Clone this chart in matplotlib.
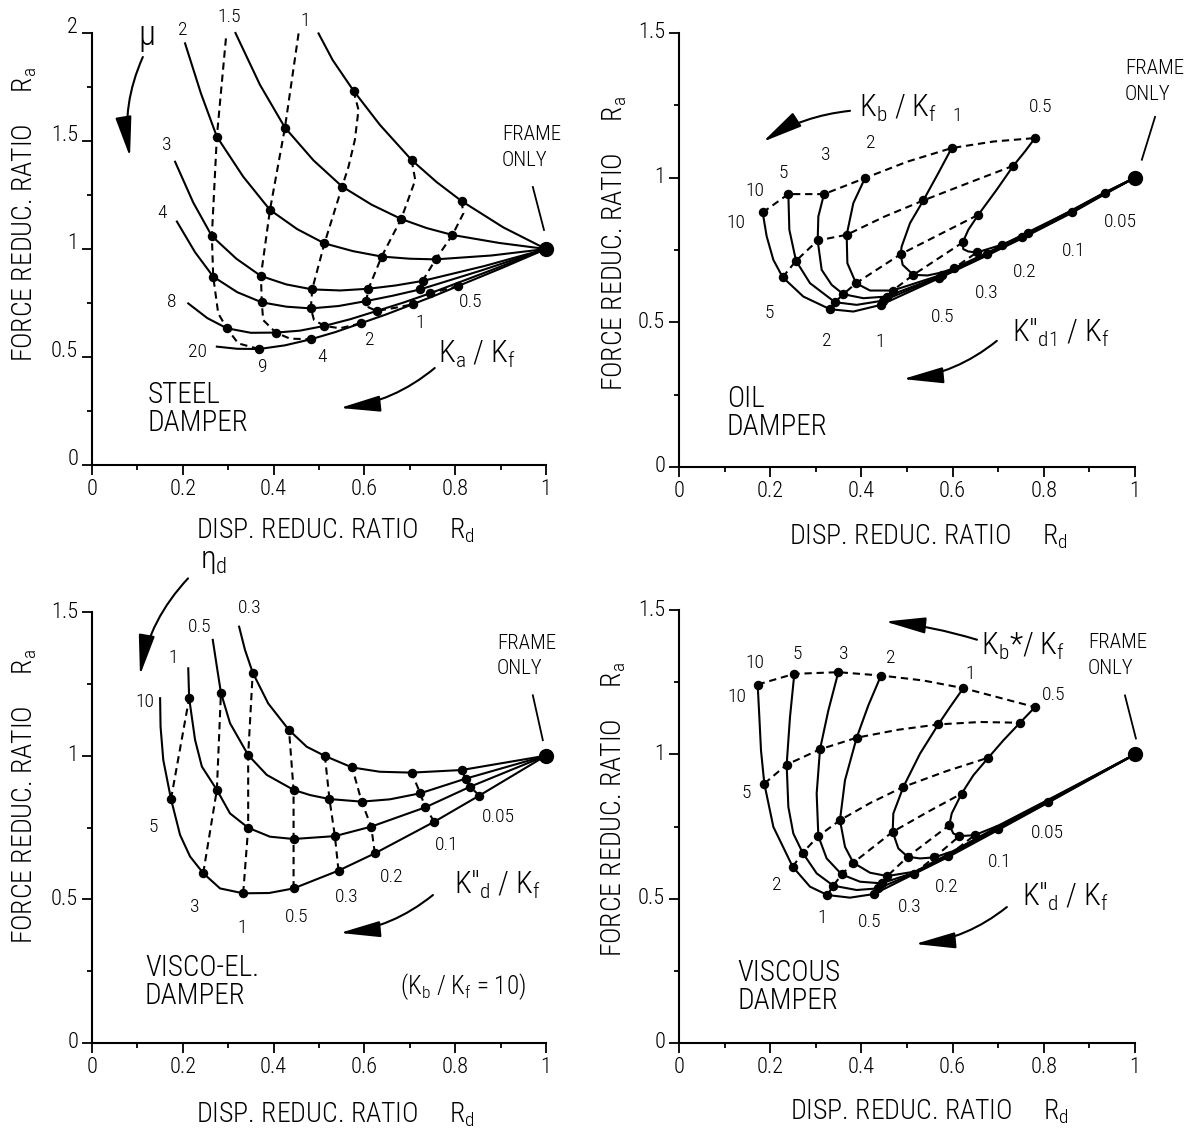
import numpy as np
import matplotlib.pyplot as plt

plt.rcParams['font.family'] = ['Roboto Condensed', 'Liberation Sans', 'DejaVu Sans']
plt.rcParams['font.weight'] = 'light'
plt.rcParams['mathtext.default'] = 'regular'

# ---------------- steel damper (top left) ----------------
# solid curves: constant mu
steel_mu = ['1', '1.5', '2', '3', '4', '8', '20']
steel_mu_x = [
    [0.499, 0.530, 0.576, 0.634, 0.704, 0.759, 0.814, 0.906, 1.0],
    [0.316, 0.370, 0.425, 0.488, 0.551, 0.616, 0.681, 0.737, 0.794, 0.897, 1.0],
    [0.205, 0.240, 0.275, 0.333, 0.392, 0.452, 0.512, 0.575, 0.638, 0.700, 0.757, 0.880, 1.0],
    [0.183, 0.223, 0.264, 0.318, 0.372, 0.428, 0.485, 0.547, 0.609, 0.668, 0.728, 0.864, 1.0],
    [0.187, 0.227, 0.267, 0.320, 0.374, 0.428, 0.482, 0.543, 0.604, 0.663, 0.723, 0.861, 1.0],
    [0.212, 0.254, 0.297, 0.350, 0.405, 0.458, 0.512, 0.569, 0.627, 0.686, 0.745, 0.872, 1.0],
    [0.275, 0.320, 0.368, 0.425, 0.482, 0.537, 0.592, 0.649, 0.706, 0.756, 0.807, 0.904, 1.0],
]
steel_mu_y = [
    [1.998, 1.875, 1.733, 1.575, 1.412, 1.310, 1.222, 1.100, 1.0],
    [2.0, 1.76, 1.562, 1.41, 1.289, 1.205, 1.139, 1.097, 1.065, 1.028, 1.0],
    [1.952, 1.72, 1.52, 1.335, 1.181, 1.092, 1.026, 0.99, 0.965, 0.955, 0.952, 0.970, 1.0],
    [1.404, 1.215, 1.06, 0.955, 0.875, 0.836, 0.813, 0.808, 0.816, 0.831, 0.852, 0.921, 1.0],
    [1.127, 0.985, 0.872, 0.80, 0.753, 0.733, 0.725, 0.736, 0.759, 0.784, 0.813, 0.903, 1.0],
    [0.748, 0.68, 0.633, 0.612, 0.613, 0.622, 0.644, 0.675, 0.713, 0.752, 0.795, 0.896, 1.0],
    [0.548, 0.538, 0.537, 0.554, 0.582, 0.616, 0.656, 0.698, 0.744, 0.785, 0.829, 0.913, 1.0],
]
# dashed curves: constant Ka/Kf
steel_ka = ['9', '4', '2', '1', '0.5']
steel_ka_x = [
    [0.295, 0.275, 0.264, 0.267, 0.278, 0.297, 0.322, 0.368],
    [0.455, 0.425, 0.392, 0.372, 0.374, 0.377, 0.405, 0.436, 0.482],
    [0.576, 0.587, 0.579, 0.565, 0.551, 0.512, 0.485, 0.482, 0.489, 0.512, 0.546, 0.592],
    [0.704, 0.712, 0.681, 0.638, 0.609, 0.604, 0.609, 0.627, 0.666, 0.706],
    [0.814, 0.818, 0.794, 0.757, 0.728, 0.723, 0.745, 0.807],
]
steel_ka_y = [
    [1.975, 1.520, 1.060, 0.872, 0.702, 0.633, 0.563, 0.537],
    [1.998, 1.562, 1.181, 0.875, 0.753, 0.671, 0.613, 0.585, 0.582],
    [1.733, 1.644, 1.505, 1.381, 1.289, 1.026, 0.813, 0.725, 0.671, 0.644, 0.633, 0.656],
    [1.412, 1.319, 1.139, 0.965, 0.816, 0.759, 0.730, 0.713, 0.727, 0.744],
    [1.222, 1.165, 1.065, 0.952, 0.852, 0.813, 0.795, 0.829],
]
steel_dot_x = [0.576, 0.704, 0.814,
               0.425, 0.551, 0.681, 0.794,
               0.275, 0.392, 0.512, 0.638, 0.757,
               0.264, 0.372, 0.485, 0.609, 0.728,
               0.267, 0.374, 0.482, 0.604, 0.723,
               0.297, 0.405, 0.512, 0.627, 0.745,
               0.368, 0.482, 0.592, 0.706, 0.807]
steel_dot_y = [1.733, 1.412, 1.222,
               1.562, 1.289, 1.139, 1.065,
               1.520, 1.181, 1.026, 0.965, 0.952,
               1.060, 0.875, 0.813, 0.816, 0.852,
               0.872, 0.753, 0.725, 0.759, 0.813,
               0.633, 0.613, 0.644, 0.713, 0.795,
               0.537, 0.582, 0.656, 0.744, 0.829]

# ---------------- oil damper (top right) ----------------
oil_kb = ['10', '5', '3', '2', '1', '0.5']
oil_kb_x = [
    [0.1835, 0.1923, 0.2069, 0.2273, 0.2727, 0.3311, 0.3823, 0.443, 0.571, 0.673, 0.752, 0.861, 0.934, 1.0],
    [0.2398, 0.242, 0.2566, 0.2873, 0.3421, 0.3896, 0.4481, 0.573, 0.674, 0.752, 0.861, 0.934, 1.0],
    [0.318, 0.3056, 0.3041, 0.3129, 0.3348, 0.3604, 0.4042, 0.4554, 0.575, 0.675, 0.752, 0.861, 0.934, 1.0],
    [0.4079, 0.3823, 0.3677, 0.3692, 0.3882, 0.419, 0.4686, 0.577, 0.676, 0.752, 0.861, 0.934, 1.0],
    [0.598, 0.5687, 0.5358, 0.5066, 0.4883, 0.486, 0.4905, 0.5139, 0.545, 0.575, 0.603, 0.677, 0.753,
     0.861, 0.934, 1.0],
    [0.7807, 0.7588, 0.7332, 0.6966, 0.6564, 0.6345, 0.622, 0.6235, 0.6345, 0.6528, 0.7076, 0.766,
     0.862, 0.935, 1.0],
]
oil_kb_y = [
    [0.8797, 0.797, 0.716, 0.656, 0.589, 0.5454, 0.5373, 0.5604, 0.653, 0.729, 0.790, 0.878, 0.943, 1.0],
    [0.9432, 0.8198, 0.7126, 0.6353, 0.5696, 0.5604, 0.5753, 0.657, 0.732, 0.793, 0.880, 0.945, 1.0],
    [0.9432, 0.8659, 0.7829, 0.6814, 0.6295, 0.5973, 0.5834, 0.5892, 0.661, 0.735, 0.796, 0.882, 0.946, 1.0],
    [0.9985, 0.912, 0.8025, 0.7045, 0.6353, 0.6099, 0.6099, 0.665, 0.738, 0.799, 0.884, 0.947, 1.0],
    [1.1023, 1.0158, 0.9213, 0.8428, 0.7621, 0.7356, 0.6987, 0.6641, 0.662, 0.672, 0.687, 0.741, 0.802,
     0.886, 0.948, 1.0],
    [1.1369, 1.0907, 1.0412, 0.9581, 0.8717, 0.8198, 0.776, 0.7529, 0.7449, 0.7414, 0.768, 0.808,
     0.888, 0.950, 1.0],
]
oil_kd = ['10', '5', '2', '1', '0.5', '0.3', '0.2']
oil_kd_x = [
    [0.1835, 0.2398, 0.318, 0.4079, 0.50, 0.598, 0.69, 0.7807],
    [0.2273, 0.2566, 0.3041, 0.3677, 0.45, 0.5358, 0.64, 0.7332],
    [0.3311, 0.3421, 0.3604, 0.3882, 0.4861, 0.6564],
    [0.443, 0.4481, 0.4554, 0.4686, 0.5139, 0.622],
    [0.571, 0.573, 0.575, 0.577, 0.603, 0.6528],
    [0.673, 0.675, 0.677, 0.7076],
    [0.752, 0.753, 0.766],
]
oil_kd_y = [
    [0.8797, 0.9432, 0.9432, 0.9985, 1.055, 1.1023, 1.125, 1.1369],
    [0.656, 0.7126, 0.7829, 0.8025, 0.865, 0.9213, 0.985, 1.0412],
    [0.5454, 0.5696, 0.5973, 0.6353, 0.7356, 0.8717],
    [0.5604, 0.5753, 0.5892, 0.6099, 0.6641, 0.776],
    [0.653, 0.657, 0.661, 0.665, 0.687, 0.7414],
    [0.729, 0.735, 0.741, 0.768],
    [0.795, 0.800, 0.808],
]
oil_dot_x = [0.1835, 0.2398, 0.318, 0.4079, 0.598, 0.7807,
             0.2273, 0.2566, 0.3041, 0.3677, 0.5358, 0.7332,
             0.3311, 0.3421, 0.3604, 0.3882, 0.4861, 0.6564,
             0.443, 0.4481, 0.4554, 0.4686, 0.5139, 0.622,
             0.571, 0.577, 0.603, 0.6528,
             0.675, 0.7076, 0.752, 0.766, 0.861, 0.934]
oil_dot_y = [0.8797, 0.9432, 0.9432, 0.9985, 1.1023, 1.1369,
             0.656, 0.7126, 0.7829, 0.8025, 0.9213, 1.0412,
             0.5454, 0.5696, 0.5973, 0.6353, 0.7356, 0.8717,
             0.5604, 0.5753, 0.5892, 0.6099, 0.6641, 0.776,
             0.653, 0.665, 0.687, 0.7414,
             0.735, 0.768, 0.795, 0.808, 0.882, 0.946]

# ---------------- visco-elastic damper (bottom left) ----------------
ve_eta = ['10', '1', '0.5', '0.3']
ve_eta_x = [
    [0.150, 0.151, 0.157, 0.174, 0.194, 0.216, 0.245, 0.282, 0.333, 0.390, 0.444, 0.543, 0.623, 0.754, 0.853, 1.0],
    [0.212, 0.214, 0.227, 0.242, 0.275, 0.304, 0.344, 0.392, 0.444, 0.535, 0.615, 0.734, 0.833, 1.0],
    [0.266, 0.275, 0.284, 0.304, 0.344, 0.385, 0.444, 0.480, 0.523, 0.594, 0.656, 0.723, 0.823, 1.0],
    [0.324, 0.337, 0.354, 0.388, 0.434, 0.473, 0.513, 0.573, 0.634, 0.704, 0.814, 1.0],
]
ve_eta_y = [
    [1.200, 1.101, 0.985, 0.849, 0.724, 0.649, 0.591, 0.538, 0.521, 0.522, 0.538, 0.600, 0.660, 0.770, 0.861, 1.0],
    [1.304, 1.200, 1.055, 0.962, 0.881, 0.799, 0.749, 0.718, 0.710, 0.720, 0.753, 0.820, 0.892, 1.0],
    [1.403, 1.310, 1.219, 1.113, 1.002, 0.933, 0.881, 0.863, 0.849, 0.840, 0.848, 0.869, 0.920, 1.0],
    [1.449, 1.368, 1.289, 1.182, 1.089, 1.031, 0.999, 0.959, 0.944, 0.941, 0.950, 1.0],
]
ve_kd = ['5', '3', '1', '0.5', '0.3', '0.2', '0.1', '0.05']
ve_kd_x = [
    [0.174, 0.214],
    [0.245, 0.275, 0.284],
    [0.333, 0.344, 0.344, 0.354],
    [0.444, 0.444, 0.444, 0.434],
    [0.543, 0.535, 0.523, 0.513],
    [0.623, 0.615, 0.594, 0.573],
    [0.754, 0.734, 0.723, 0.704],
    [0.853, 0.833, 0.823, 0.814],
]
ve_kd_y = [
    [0.849, 1.200],
    [0.591, 0.881, 1.219],
    [0.521, 0.749, 1.002, 1.289],
    [0.538, 0.710, 0.881, 1.089],
    [0.600, 0.720, 0.849, 0.999],
    [0.660, 0.753, 0.840, 0.959],
    [0.770, 0.820, 0.869, 0.941],
    [0.861, 0.892, 0.920, 0.950],
]

# ---------------- viscous damper (bottom right) ----------------
vs_kb = ['10', '5', '3', '2', '1', '0.5']
vs_kb_x = [
    [0.1725, 0.1762, 0.1798, 0.1871, 0.2069, 0.2493, 0.2873, 0.3253, 0.375, 0.4276, 0.515, 0.59, 0.70, 0.81, 1.0],
    [0.2529, 0.2434, 0.2361, 0.2398, 0.2507, 0.2712, 0.3019, 0.3385, 0.3896, 0.4371, 0.516, 0.591, 0.70, 0.81, 1.0],
    [0.3494, 0.3275, 0.3092, 0.3019, 0.3056, 0.3238, 0.3567, 0.3969, 0.4444, 0.517, 0.592, 0.70, 0.81, 1.0],
    [0.443, 0.4152, 0.3896, 0.364, 0.353, 0.364, 0.3823, 0.4189, 0.4569, 0.518, 0.593, 0.70, 0.81, 1.0],
    [0.6235, 0.5943, 0.5687, 0.5285, 0.492, 0.47, 0.4686, 0.481, 0.5015, 0.5285, 0.5599, 0.60, 0.70, 0.81, 1.0],
    [0.7807, 0.7478, 0.7113, 0.6784, 0.6455, 0.6199, 0.598, 0.5928, 0.6016, 0.6148, 0.6484, 0.70, 0.81, 1.0],
]
vs_kb_y = [
    [1.2419, 1.129, 1.0138, 0.8986, 0.7488, 0.6106, 0.5415, 0.5127, 0.5035, 0.5161, 0.585, 0.644, 0.738, 0.833, 1.0],
    [1.2788, 1.129, 0.9643, 0.818, 0.7258, 0.659, 0.5876, 0.5449, 0.53, 0.5357, 0.588, 0.648, 0.741, 0.835, 1.0],
    [1.2846, 1.152, 1.0173, 0.864, 0.7166, 0.6394, 0.5841, 0.5588, 0.553, 0.591, 0.652, 0.744, 0.837, 1.0],
    [1.273, 1.1694, 1.0576, 0.9101, 0.7719, 0.6797, 0.6244, 0.5899, 0.5783, 0.594, 0.656, 0.747, 0.839, 1.0],
    [1.2293, 1.1636, 1.1037, 1.0023, 0.8871, 0.795, 0.7316, 0.674, 0.6452, 0.6394, 0.6429, 0.664, 0.750, 0.841, 1.0],
    [1.1636, 1.1094, 1.0484, 0.9885, 0.9274, 0.8641, 0.795, 0.7546, 0.7258, 0.7166, 0.72, 0.753, 0.843, 1.0],
]
vs_kd = ['10', '5', '2', '1', '0.5', '0.3', '0.2']
vs_kd_x = [
    [0.1725, 0.2529, 0.3494, 0.443, 0.535, 0.6235, 0.7807],
    [0.1871, 0.2361, 0.3092, 0.3896, 0.48, 0.5687, 0.66, 0.7478],
    [0.2493, 0.2712, 0.3056, 0.353, 0.42, 0.492, 0.585, 0.6784],
    [0.3253, 0.3385, 0.3567, 0.3823, 0.4686, 0.545, 0.6199],
    [0.4276, 0.4371, 0.4444, 0.4569, 0.5015, 0.5928],
    [0.515, 0.5599, 0.6148],
    [0.59, 0.6484],
]
vs_kd_y = [
    [1.2419, 1.2788, 1.2846, 1.273, 1.256, 1.2293, 1.1636],
    [0.8986, 0.9643, 1.0173, 1.0576, 1.085, 1.1037, 1.112, 1.1094],
    [0.6106, 0.659, 0.7166, 0.7719, 0.832, 0.8871, 0.941, 0.9885],
    [0.5127, 0.5449, 0.5841, 0.6244, 0.7316, 0.80, 0.8641],
    [0.5161, 0.5357, 0.553, 0.5783, 0.6452, 0.7546],
    [0.587, 0.6429, 0.7166],
    [0.648, 0.72],
]
vs_dot_x = [0.1725, 0.2529, 0.3494, 0.443, 0.6235, 0.7807,
            0.1871, 0.2361, 0.3092, 0.3896, 0.5687, 0.7478,
            0.2493, 0.2712, 0.3056, 0.353, 0.492, 0.6784,
            0.3253, 0.3385, 0.3567, 0.3823, 0.4686, 0.6199,
            0.4276, 0.4371, 0.4444, 0.4569, 0.5015, 0.5928,
            0.515, 0.5599, 0.6148, 0.59, 0.6484, 0.70, 0.81]
vs_dot_y = [1.2419, 1.2788, 1.2846, 1.273, 1.2293, 1.1636,
            0.8986, 0.9643, 1.0173, 1.0576, 1.1037, 1.1094,
            0.6106, 0.659, 0.7166, 0.7719, 0.8871, 0.9885,
            0.5127, 0.5449, 0.5841, 0.6244, 0.7316, 0.8641,
            0.5161, 0.5357, 0.553, 0.5783, 0.6452, 0.7546,
            0.587, 0.6429, 0.7166, 0.648, 0.72, 0.742, 0.836]

# ---------------- drawing ----------------
LW = 1.5
DASH = (3.5, 2.3)


def setup(ax, ymax, xlab, ylab, ytick_va):
    ax.set_xlim(0, 1)
    ax.set_ylim(0, ymax)
    ax.spines[['top', 'right']].set_visible(False)
    ax.spines[['left', 'bottom']].set_linewidth(1.5)
    ax.set_xticks(np.arange(0, 1.01, 0.2))
    ax.set_xticklabels(['0', '0.2', '0.4', '0.6', '0.8', '1'])
    ax.set_xticks(np.arange(0, 1.01, 0.1), minor=True)
    yt = np.arange(0, ymax + 0.01, 0.5)
    ax.set_yticks(yt)
    ax.set_yticklabels(['0', '0.5', '1', '1.5', '2'][:len(yt)])
    ax.set_yticks(np.arange(0, ymax + 0.01, 0.25), minor=True)
    ax.tick_params(which='major', direction='out', length=7, width=1.3, labelsize=16, pad=3)
    ax.tick_params(which='minor', direction='out', length=3.5, width=1.3)
    for lab in ax.get_yticklabels():
        lab.set_va(ytick_va)
    ax.text(xlab[0], xlab[1], 'DISP. REDUC. RATIO     R$_d$', transform=ax.transAxes,
            ha='center', va='center', fontsize=20)
    ax.text(ylab[0], ylab[1], 'FORCE REDUC. RATIO     R$_a$', transform=ax.transAxes,
            ha='center', va='center', fontsize=20, rotation=90)


def curves(ax, xs, ys, dashed=False):
    for x, y in zip(xs, ys):
        if dashed:
            ax.plot(x, y, color='k', lw=LW, dashes=DASH, clip_on=False)
        else:
            ax.plot(x, y, color='k', lw=LW, clip_on=False)


def dots(ax, x, y):
    ax.plot(x, y, 'o', color='k', ms=5.8, clip_on=False)
    ax.plot([1.0], [1.0], 'o', color='k', ms=10, clip_on=False)


def labels(ax, items, size=14):
    for s, x, y in items:
        ax.text(x, y, s, fontsize=size, ha='center', va='center', clip_on=False)


def arrow(ax, start, end, rad):
    ax.annotate('', xy=end, xytext=start,
                arrowprops=dict(arrowstyle='-|>,head_length=1.25,head_width=0.25', mutation_scale=20,
                                connectionstyle='arc3,rad=%s' % rad, lw=1.5, color='k',
                                shrinkA=0, shrinkB=0),
                annotation_clip=False)


def frame_only(ax, xy, p1, p2):
    ax.text(xy[0], xy[1], 'FRAME\nONLY', fontsize=15, ha='left', va='top', linespacing=1.45)
    ax.plot([p1[0], p2[0]], [p1[1], p2[1]], color='k', lw=1.3, clip_on=False)


fig = plt.figure(figsize=(12, 11.28), dpi=100)
ax1 = fig.add_axes([92 / 1200, 1 - 465 / 1128, 454 / 1200, 432 / 1128])
ax2 = fig.add_axes([679 / 1200, 1 - 467 / 1128, 456 / 1200, 434 / 1128])
ax3 = fig.add_axes([92 / 1200, 1 - 1043 / 1128, 454 / 1200, 431 / 1128])
ax4 = fig.add_axes([679 / 1200, 1 - 1043 / 1128, 456 / 1200, 433 / 1128])

# panel 1
setup(ax1, 2.0, (0.537, -0.153), (-0.148, 0.579), 'baseline')
curves(ax1, steel_mu_x, steel_mu_y)
curves(ax1, steel_ka_x, steel_ka_y, dashed=True)
dots(ax1, steel_dot_x, steel_dot_y)
labels(ax1, zip(steel_mu, [0.469, 0.302, 0.2, 0.165, 0.154, 0.176, 0.233],
                [2.056, 2.074, 2.014, 1.481, 1.167, 0.755, 0.523]))
labels(ax1, zip(steel_ka, [0.377, 0.507, 0.612, 0.722, 0.833],
                [0.454, 0.5, 0.579, 0.657, 0.755]))
ax1.text(0.121, 1.99, 'μ', fontsize=25, ha='center', va='center')
arrow(ax1, (0.112, 1.889), (0.0837, 1.426), 0.15)
ax1.text(0.848, 0.514, 'K$_a$ / K$_f$', fontsize=22, ha='center', va='center')
arrow(ax1, (0.755, 0.449), (0.546, 0.264), -0.15)
ax1.text(0.123, 0.39, 'STEEL\nDAMPER', fontsize=21, ha='left', va='top', linespacing=1.0)
frame_only(ax1, (0.903, 1.575), (0.971, 1.287), (0.9956, 1.088))

# panel 2
setup(ax2, 1.5, (0.546, -0.161), (-0.141, 0.514), 'center')
curves(ax2, oil_kb_x, oil_kb_y)
curves(ax2, oil_kd_x, oil_kd_y, dashed=True)
dots(ax2, oil_dot_x, oil_dot_y)
labels(ax2, zip(oil_kb, [0.1667, 0.228, 0.322, 0.421, 0.61, 0.794],
                [0.9547, 1.017, 1.079, 1.121, 1.214, 1.245]))
labels(ax2, zip(['10', '5', '2', '1', '0.5', '0.3', '0.2', '0.1', '0.05'],
                [0.125, 0.197, 0.3246, 0.441, 0.579, 0.675, 0.759, 0.866, 0.967],
                [0.844, 0.533, 0.436, 0.432, 0.519, 0.602, 0.6745, 0.747, 0.847]))
ax2.text(0.48, 1.238, 'K$_b$ / K$_f$', fontsize=22, ha='center', va='center')
arrow(ax2, (0.375, 1.231), (0.184, 1.124), 0.12)
ax2.text(0.836, 0.4635, 'K″$_{d1}$ / K$_f$', fontsize=22, ha='center', va='center')
arrow(ax2, (0.697, 0.436), (0.491, 0.304), -0.15)
ax2.text(0.105, 0.282, 'OIL\nDAMPER', fontsize=21, ha='left', va='top', linespacing=1.0)
frame_only(ax2, (0.978, 1.41), (1.044, 1.21), (1.015, 1.062))

# panel 3
setup(ax3, 1.5, (0.536, -0.167), (-0.148, 0.571), 'center')
curves(ax3, ve_eta_x, ve_eta_y)
curves(ax3, ve_kd_x, ve_kd_y, dashed=True)
dots(ax3, [v for row in ve_kd_x for v in row], [v for row in ve_kd_y for v in row])
labels(ax3, zip(ve_eta, [0.1167, 0.178, 0.238, 0.348], [1.186, 1.339, 1.447, 1.513]))
labels(ax3, zip(ve_kd, [0.134, 0.227, 0.330, 0.4515, 0.562, 0.661, 0.782, 0.894],
                [0.751, 0.473, 0.40, 0.438, 0.508, 0.577, 0.689, 0.786]))
ax3.text(0.269, 1.675, 'η$_d$', fontsize=23, ha='center', va='center')
arrow(ax3, (0.2115, 1.617), (0.1057, 1.28), 0.15)
ax3.text(0.892, 0.55, 'K″$_d$ / K$_f$', fontsize=22, ha='center', va='center')
arrow(ax3, (0.751, 0.515), (0.546, 0.383), -0.15)
ax3.text(0.1167, 0.31, 'VISCO-EL.\nDAMPER', fontsize=21, ha='left', va='top', linespacing=1.0)
ax3.text(0.817, 0.195, '(K$_b$ / K$_f$ = 10)', fontsize=18, ha='center', va='center')
frame_only(ax3, (0.892, 1.425), (0.971, 1.21), (0.993, 1.054))

# panel 4
setup(ax4, 1.5, (0.549, -0.159), (-0.1425, 0.54), 'center')
curves(ax4, vs_kb_x, vs_kb_y)
curves(ax4, vs_kd_x, vs_kd_y, dashed=True)
dots(ax4, vs_dot_x, vs_dot_y)
labels(ax4, zip(vs_kb, [0.1667, 0.259, 0.362, 0.465, 0.638, 0.822],
                [1.318, 1.349, 1.349, 1.332, 1.28, 1.207]))
labels(ax4, zip(['10', '5', '2', '1', '0.5', '0.3', '0.2', '0.1', '0.05'],
                [0.127, 0.147, 0.215, 0.3136, 0.419, 0.5066, 0.588, 0.704, 0.807],
                [1.197, 0.865, 0.547, 0.433, 0.4195, 0.471, 0.541, 0.627, 0.727]))
ax4.text(0.754, 1.373, 'K$_b$*/ K$_f$', fontsize=22, ha='center', va='center')
arrow(ax4, (0.6535, 1.397), (0.452, 1.46), 0.05)
ax4.text(0.8465, 0.506, 'K″$_d$ / K$_f$', fontsize=22, ha='center', va='center')
arrow(ax4, (0.719, 0.471), (0.5175, 0.343), -0.15)
ax4.text(0.129, 0.29, 'VISCOUS\nDAMPER', fontsize=21, ha='left', va='top', linespacing=1.0)
frame_only(ax4, (0.897, 1.42), (0.978, 1.204), (1.002, 1.055))

fig.savefig('out.png', dpi=100)
